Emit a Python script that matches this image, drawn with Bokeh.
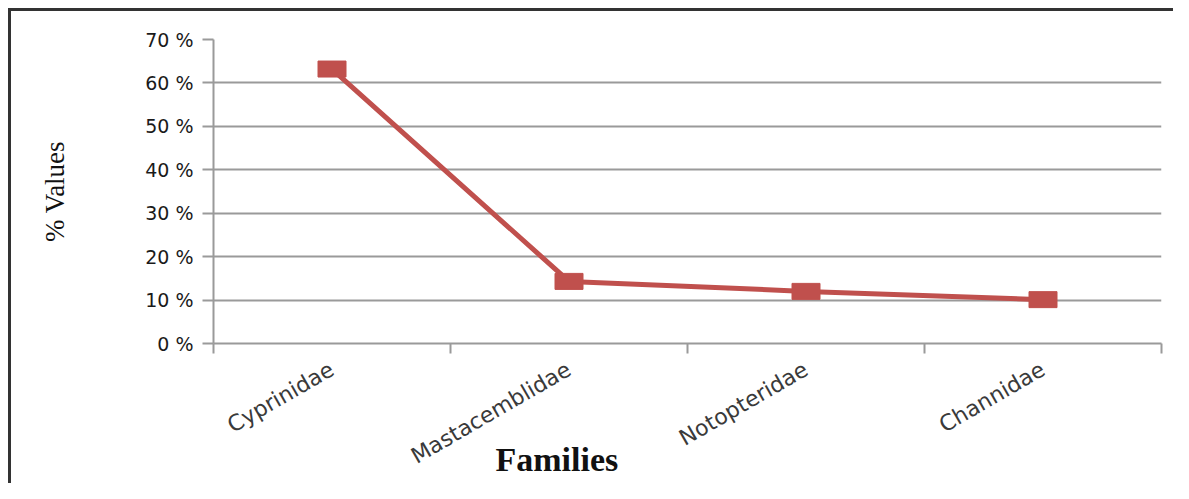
import math
from bokeh.plotting import figure
from bokeh.models import Range1d, FixedTicker, Title
from bokeh.embed import file_html
from bokeh.resources import INLINE

families = ["Cyprinidae", "Mastacemblidae", "Notopteridae", "Channidae"]
percent_values = [63.2, 14.3, 12.0, 10.1]
y_ticks = [0, 10, 20, 30, 40, 50, 60, 70]
y_tick_labels = ["0 %", "10 %", "20 %", "30 %", "40 %", "50 %", "60 %", "70 %"]

x_centers = [i + 0.5 for i in range(len(families))]
x_edges = list(range(len(families) + 1))

p = figure(width=1173, height=483, output_backend="svg", toolbar_location=None,
           x_range=Range1d(0, len(families)), y_range=Range1d(0, 70),
           min_border_left=213, min_border_right=12, min_border_top=39, min_border_bottom=140)

p.border_fill_color = None
p.background_fill_color = "white"
p.outline_line_color = None
p.styles = {"box-shadow": "inset 8px 8px 0 0 #ffffff, inset 11px 11px 0 0 #333333",
            "background-color": "white"}

grey = "#9a9a9a"

# y axis
ya = p.yaxis[0]
ya.ticker = FixedTicker(ticks=y_ticks)
ya.major_label_overrides = {t: lab for t, lab in zip(y_ticks, y_tick_labels)}
ya.axis_line_color = grey
ya.axis_line_width = 2
ya.major_tick_line_color = grey
ya.major_tick_line_width = 2
ya.major_tick_out = 11
ya.major_tick_in = 0
ya.minor_tick_line_color = None
ya.major_label_text_font = "DejaVu Sans"
ya.major_label_text_font_size = "19px"
ya.major_label_text_color = "#1a1a1a"
ya.major_label_standoff = 9
ya.axis_label = "% Values"
ya.axis_label_text_font = "Liberation Serif"
ya.axis_label_text_font_size = "27px"
ya.axis_label_text_font_style = "normal"
ya.axis_label_text_color = "#111111"
ya.axis_label_standoff = 72

# x axis: minor ticks at category edges, labels at centers
xa = p.xaxis[0]
xa.ticker = FixedTicker(ticks=x_centers, minor_ticks=x_edges)
xa.major_label_overrides = {c: f for c, f in zip(x_centers, families)}
xa.axis_line_color = grey
xa.axis_line_width = 2
xa.major_tick_line_color = None
xa.major_tick_out = 0
xa.major_tick_in = 0
xa.minor_tick_line_color = grey
xa.minor_tick_line_width = 2
xa.minor_tick_out = 10
xa.minor_tick_in = 0
xa.major_label_orientation = math.pi / 6
xa.major_label_text_font = "DejaVu Sans"
xa.major_label_text_font_size = "22px"
xa.major_label_text_color = "#3a3a3a"
xa.major_label_standoff = 14

p.xgrid.grid_line_color = None
p.ygrid.ticker = FixedTicker(ticks=y_ticks)
p.ygrid.grid_line_color = grey
p.ygrid.grid_line_width = 2

color = "#C0504D"
p.line(x_centers, percent_values, line_color=color, line_width=5)
p.rect(x_centers, percent_values, width=28, height=16, width_units="screen",
       height_units="screen", fill_color=color, line_color=color)

p.add_layout(Title(text="Families", align="left", offset=282, standoff=-84,
                   vertical_align="top", text_font="Liberation Serif",
                   text_font_size="34px", text_font_style="bold",
                   text_color="#111111"), "below")

open("out.html", "w").write(file_html(p, INLINE))
